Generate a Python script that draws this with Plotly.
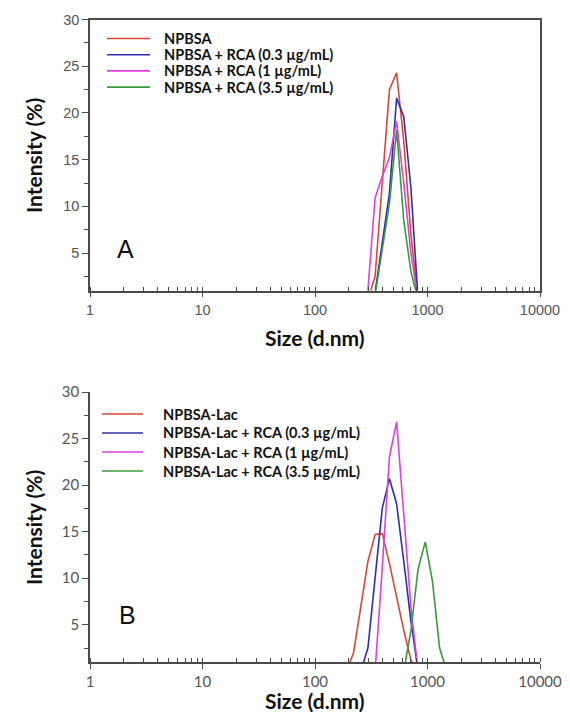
import plotly.graph_objects as go

# ---------------- data ----------------
# Panel A (NPBSA)
sizes_a = [255.0, 295.3, 342.0, 396.1, 458.7, 531.2, 615.1, 712.4, 825.0, 955.4]
a_npbsa = [0, 0, 2.5, 12.6, 22.5, 24.3, 17.0, 7.0, 0, 0]
a_rca_03 = [0, 0, 0.8, 6.1, 11.4, 21.6, 19.6, 12.0, 0, 0]
a_rca_1 = [0, 1.0, 10.9, 13.2, 15.2, 19.1, 12.5, 5.0, 0, 0]
a_rca_35 = [0, 0, 0.5, 5.3, 10.3, 18.2, 8.5, 3.0, 0, 0]
names_a = ["NPBSA", "NPBSA + RCA (0.3 µg/mL)", "NPBSA + RCA (1 µg/mL)", "NPBSA + RCA (3.5 µg/mL)"]

# Panel B (NPBSA-Lac)
sizes_b = [190.1, 220.2, 255.0, 295.3, 342.0, 396.1, 458.7, 531.2, 615.1, 712.4,
           825.0, 955.4, 1106.0, 1281.0, 1484.0, 1718.0]
b_lac = [0, 2.0, 6.9, 11.8, 14.7, 14.8, 11.6, 8.0, 4.4, 1.2, 0, 0, 0, 0, 0, 0]
b_rca_03 = [0, 0, 0, 2.5, 10.0, 17.5, 20.7, 18.0, 11.8, 5.4, 0, 0, 0, 0, 0, 0]
b_rca_1 = [0, 0, 0, 0, 0, 11.1, 23.0, 26.8, 17.3, 6.9, 0, 0, 0, 0, 0, 0]
b_rca_35 = [0, 0, 0, 0, 0, 0, 0, 0, 0, 4.4, 11.0, 13.9, 9.7, 2.5, 0, 0]
names_b = ["NPBSA-Lac", "NPBSA-Lac + RCA (0.3 µg/mL)", "NPBSA-Lac + RCA (1 µg/mL)",
           "NPBSA-Lac + RCA (3.5 µg/mL)"]

x_tickvals = [1, 10, 100, 1000, 10000]
x_ticktext = ["1", "10", "100", "1000", "10000"]
y_tickvals = [5, 10, 15, 20, 25, 30]
y_ticktext = ["5", "10", "15", "20", "25", "30"]

colors = ["#d8463c", "#2e2eaa", "#e03ee0", "#3c983c"]

W, H = 570, 712

def px(x):
    return x / W

def py(y):
    return 1 - y / H

fig = go.Figure()

series_a = [a_npbsa, a_rca_03, a_rca_1, a_rca_35]
series_b = [b_lac, b_rca_03, b_rca_1, b_rca_35]

for vals, name, c in zip(series_a, names_a, colors):
    fig.add_trace(go.Scatter(x=sizes_a, y=vals, name=name, mode="lines",
                             line=dict(color=c, width=1.6), xaxis="x", yaxis="y",
                             showlegend=False))
for vals, name, c in zip(series_b, names_b, colors):
    fig.add_trace(go.Scatter(x=sizes_b, y=vals, name=name, mode="lines",
                             line=dict(color=c, width=1.6), xaxis="x2", yaxis="y2",
                             showlegend=False))

axis_col = "#4a4a4a"
tick_font_a = dict(family="Liberation Sans, Arial", size=14.5, color="#555555")
tick_font_b = dict(family="Lato, Liberation Sans", size=15, color="#555555")

def xaxis(font, anchor, mirror):
    return dict(type="log", range=[0, 4], domain=[px(90), px(540)], anchor=anchor,
                automargin=False,
                tickmode="array", tickvals=x_tickvals, ticktext=x_ticktext,
                ticks="outside", ticklen=5, tickwidth=1.3, tickcolor=axis_col,
                minor=dict(dtick="D1", ticks="inside", ticklen=4, tickwidth=1.3,
                           tickcolor=axis_col, showgrid=False),
                showline=True, linecolor=axis_col, linewidth=1.5, mirror=mirror,
                showgrid=False, zeroline=False, tickfont=font)

def yaxis(dom, font, anchor, mirror):
    return dict(range=[1, 30], domain=dom, anchor=anchor, automargin=False,
                tickmode="array", tickvals=y_tickvals, ticktext=y_ticktext,
                ticks="outside", ticklen=6, tickwidth=1.3, tickcolor=axis_col,
                minor=dict(dtick=2.5, tick0=0, ticks="outside", ticklen=4, tickwidth=1.3,
                           tickcolor=axis_col, showgrid=False),
                showline=True, linecolor=axis_col, linewidth=1.5, mirror=mirror,
                showgrid=False, zeroline=False, tickfont=font)

annotations = []
shapes = []

# legends (manual, drawn from the series names)
leg_font = dict(family="Lato, Liberation Sans", size=14.5, color="#111111")
for i, (name, c) in enumerate(zip(names_a, colors)):
    yy = 38.5 + i * 16.2
    shapes.append(dict(type="line", xref="paper", yref="paper",
                       x0=px(107), x1=px(150), y0=py(yy), y1=py(yy),
                       line=dict(color=c, width=1.6)))
    annotations.append(dict(text="<b>%s</b>" % name, xref="paper", yref="paper",
                            x=px(162), y=py(yy), xanchor="left", yanchor="middle",
                            showarrow=False, font=leg_font))
for i, (name, c) in enumerate(zip(names_b, colors)):
    yy = 414 + i * 19
    shapes.append(dict(type="line", xref="paper", yref="paper",
                       x0=px(102), x1=px(143), y0=py(yy), y1=py(yy),
                       line=dict(color=c, width=1.6)))
    annotations.append(dict(text="<b>%s</b>" % name, xref="paper", yref="paper",
                            x=px(161), y=py(yy), xanchor="left", yanchor="middle",
                            showarrow=False, font=leg_font))

title_font = dict(family="Lato, Liberation Sans", size=21, color="#111111")
for yc in (337, 700):
    annotations.append(dict(text="<b>Size (d.nm)</b>", xref="paper", yref="paper",
                            x=px(315), y=py(yc), xanchor="center", yanchor="middle",
                            showarrow=False, font=title_font))
for yc in (156, 528):
    annotations.append(dict(text="<b>Intensity (%)</b>", xref="paper", yref="paper",
                            x=px(33), y=py(yc), xanchor="center", yanchor="middle",
                            showarrow=False, font=title_font, textangle=-90))

panel_font = dict(family="Liberation Sans, Arial", size=25, color="#111111")
annotations.append(dict(text="A", xref="paper", yref="paper", x=px(125), y=py(249),
                        xanchor="center", yanchor="middle", showarrow=False, font=panel_font))
annotations.append(dict(text="B", xref="paper", yref="paper", x=px(127), y=py(615),
                        xanchor="center", yanchor="middle", showarrow=False, font=panel_font))

fig.update_layout(
    template="none",
    width=W, height=H,
    margin=dict(l=0, r=0, t=0, b=0, autoexpand=False),
    paper_bgcolor="white", plot_bgcolor="white",
    xaxis=xaxis(tick_font_a, "y", True),
    yaxis=yaxis([py(290.5), py(19.5)], tick_font_a, "x", True),
    xaxis2=xaxis(tick_font_b, "y2", False),
    yaxis2=yaxis([py(662), py(392)], tick_font_b, "x2", False),
    annotations=annotations,
    shapes=shapes,
    showlegend=False,
)

fig.write_html(
    "out.html",
    config={"displayModeBar": False},
    post_script="document.body.style.margin='0';document.body.style.overflow='hidden';",
)
